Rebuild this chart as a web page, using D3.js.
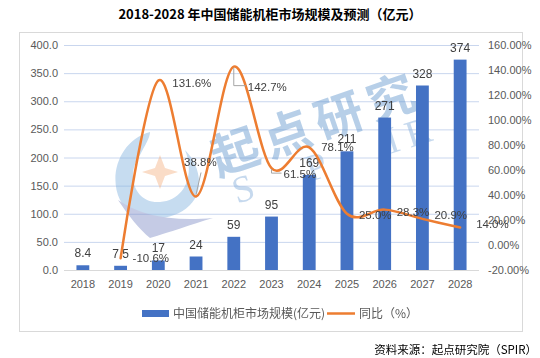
<!DOCTYPE html>
<html><head><meta charset="utf-8">
<script src="https://cdn.jsdelivr.net/npm/d3@7"></script>
<style>body{margin:0;background:#fff;}svg{display:block;}</style>
</head><body>
<svg id="c" width="540" height="358"></svg>
<script>
const years = ["2018","2019","2020","2021","2022","2023","2024","2025","2026","2027","2028"];
const marketSize = [8.4, 7.5, 17, 24, 59, 95, 169, 211, 271, 328, 374];
const sizeLabels = ["8.4","7.5","17","24","59","95","169","211","271","328","374"];
const growthYears = ["2019","2020","2021","2022","2023","2024","2025","2026","2027","2028"];
const growth = [-10.6, 131.6, 38.8, 142.7, 61.5, 78.1, 25.0, 28.3, 20.9, 14.0];
const leftTicks = [0,50,100,150,200,250,300,350,400];
const rightTicks = [-20,0,20,40,60,80,100,120,140,160];
// label placement (layout only)
const growthLabelOffsets = [[12,4],[14,6],[-12,-31],[14,24],[12,10],[12,4],[12,5],[12,6],[12,0],[16,0]];

const svg = d3.select("#c");
const font = "'Liberation Sans', Arial, sans-serif";
const cjk = "'Noto Sans CJK SC', sans-serif";

// frame
svg.append("rect").attr("x",19.5).attr("y",32.5).attr("width",503).attr("height",299)
  .attr("fill","none").attr("stroke","#D9D9D9");

svg.append("text").attr("x",270).attr("y",19).attr("text-anchor","middle")
  .attr("font-family",cjk).attr("font-weight","bold").attr("font-size",13).attr("fill","#000")
  .text("2018-2028 年中国储能机柜市场规模及预测（亿元）");

const x = d3.scaleBand().domain(years).range([64,479]).paddingInner(0.66).paddingOuter(0.33);
const y = d3.scaleLinear().domain([0,400]).range([270,45]);
const y2 = d3.scaleLinear().domain([-20,160]).range([270,45]);

// grid
svg.append("g").selectAll("line").data(leftTicks.filter(d=>d>0)).join("line")
  .attr("x1",64).attr("x2",479).attr("y1",d=>y(d)+0.5).attr("y2",d=>y(d)+0.5)
  .attr("stroke","#C9D6EE").attr("stroke-width",1);
svg.append("line").attr("x1",64).attr("x2",479).attr("y1",270.5).attr("y2",270.5).attr("stroke","#D9D9D9");

// watermark
const wm = svg.append("g").attr("opacity",0.45);
wm.append("path").attr("d","M150,132 C120,140 108,175 120,200 C132,222 170,225 190,205 C205,190 200,165 185,150 C195,175 185,200 160,202 C135,204 125,175 140,155 C145,145 150,138 150,132Z")
  .attr("fill","#7FB0DE");
wm.append("path").attr("d","M118,200 C140,215 170,222 213,218 C190,225 170,232 150,238 C140,230 128,215 118,200Z")
  .attr("fill","#7D8CC4");
wm.append("path").attr("d","M160,155 L165,168 L178,172 L165,176 L160,189 L155,176 L142,172 L155,168Z")
  .attr("fill","#F4B183");
wm.append("text").attr("transform","translate(218,176) rotate(-19)")
  .attr("font-family",cjk).attr("font-weight","bold").attr("font-size",48).attr("letter-spacing",7).attr("fill","#5F95CC")
  .text("起点研究");
[["S",237,204],["P",310,182],["I",390,154],["R",410,148]].forEach(([t,px,py])=>{
  wm.append("text").attr("transform",`translate(${px},${py}) rotate(-18)`)
    .attr("font-family","'Liberation Serif', serif").attr("font-size",38).attr("fill","#7FAAD8").text(t);
});

// left axis
const la = svg.append("g").attr("transform","translate(60,0)")
  .call(d3.axisLeft(y).tickValues(leftTicks).tickFormat(d3.format(".1f")).tickSize(0).tickPadding(2));
la.select(".domain").remove();
la.selectAll("text").attr("font-family",font).attr("font-size",11).attr("fill","#595959");

// right axis
const ra = svg.append("g").attr("transform","translate(486,0)")
  .call(d3.axisRight(y2).tickValues(rightTicks).tickFormat(d=>d.toFixed(2)+"%").tickSize(0).tickPadding(2));
ra.select(".domain").remove();
ra.selectAll("text").attr("font-family",font).attr("font-size",11).attr("fill","#595959");

// x axis
const xa = svg.append("g").attr("transform","translate(0,278)")
  .call(d3.axisBottom(x).tickSize(0).tickPadding(2));
xa.select(".domain").remove();
xa.selectAll("text").attr("font-family",font).attr("font-size",11).attr("fill","#595959");

// bars
svg.append("g").selectAll("rect").data(marketSize).join("rect")
  .attr("x",(d,i)=>x(years[i])).attr("width",x.bandwidth())
  .attr("y",d=>y(d)).attr("height",d=>270-y(d)).attr("fill","#4472C4");
svg.append("g").selectAll("text").data(marketSize).join("text")
  .attr("x",(d,i)=>x(years[i])+x.bandwidth()/2).attr("y",d=>y(d)-8)
  .attr("text-anchor","middle").attr("font-family",font).attr("font-size",12).attr("fill","#404040")
  .text((d,i)=>sizeLabels[i]);

// line
const cx = yr => x(yr)+x.bandwidth()/2;
const line = d3.line().x((d,i)=>cx(growthYears[i])).y(d=>y2(d)).curve(d3.curveCatmullRom.alpha(0));
svg.append("path").datum(growth).attr("d",line).attr("fill","none")
  .attr("stroke","#ED7D31").attr("stroke-width",2.5).attr("stroke-linecap","round");

// leader lines
const p21 = [cx("2021"), y2(38.8)], p22 = [cx("2022"), y2(142.7)];
svg.append("path").attr("d",`M${p21[0]},${p21[1]-2}L${p21[0]+5},${p21[1]-24}`).attr("stroke","#A6A6A6").attr("fill","none");
svg.append("path").attr("d",`M${p22[0]},${p22[1]+1}V${p22[1]+19}H${p22[0]+12}`).attr("stroke","#A6A6A6").attr("fill","none");
const p23 = [cx("2023"), y2(61.5)];
svg.append("path").attr("d",`M${p23[0]},${p23[1]+1}V${p23[1]+5}H${p23[0]+10}`).attr("stroke","#A6A6A6").attr("fill","none");

svg.append("g").selectAll("text").data(growth).join("text")
  .attr("x",(d,i)=>cx(growthYears[i])+growthLabelOffsets[i][0])
  .attr("y",(d,i)=>y2(d)+growthLabelOffsets[i][1])
  .attr("font-family",font).attr("font-size",11.5).attr("fill","#404040")
  .text(d=>d.toFixed(1)+"%");

// legend
svg.append("rect").attr("x",142).attr("y",310).attr("width",27).attr("height",7).attr("fill","#4472C4");
svg.append("text").attr("x",173).attr("y",318).attr("font-family",cjk).attr("font-size",12).attr("fill","#595959")
  .text("中国储能机柜市场规模(亿元)");
svg.append("line").attr("x1",327).attr("x2",355).attr("y1",313.5).attr("y2",313.5).attr("stroke","#ED7D31").attr("stroke-width",2.5);
svg.append("text").attr("x",359).attr("y",318).attr("font-family",cjk).attr("font-size",12).attr("fill","#595959")
  .text("同比（%）");

svg.append("text").attr("x",537).attr("y",354).attr("text-anchor","end").attr("font-family",cjk).attr("font-size",11.5).attr("fill","#000")
  .text("资料来源：起点研究院（SPIR）");
</script>
</body></html>
